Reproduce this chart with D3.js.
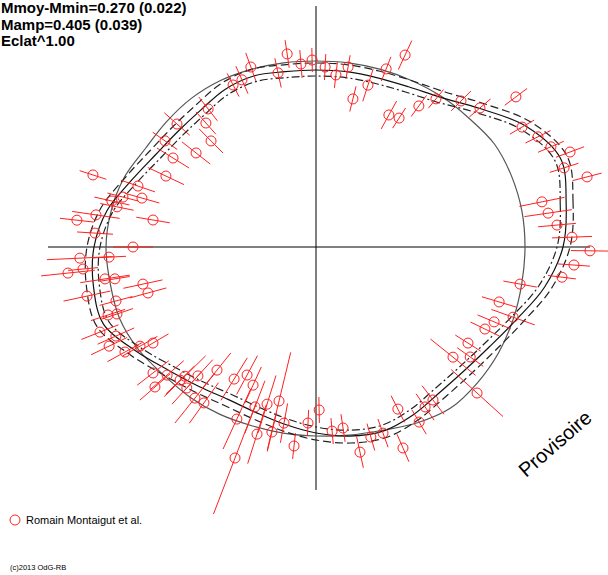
<!DOCTYPE html>
<html>
<head>
<meta charset="utf-8">
<script src="https://cdn.jsdelivr.net/npm/d3@7/dist/d3.min.js"></script>
<style>
  html, body { margin: 0; padding: 0; background: #fff; }
  svg { display: block; }
  text { font-family: "Liberation Sans", Arial, sans-serif; }
</style>
</head>
<body>
<svg id="chart" width="608" height="575"></svg>
<script>
// Observations: phase angle (degrees, counter-clockwise from the right axis),
// radial value and its uncertainty (same radial unit).
const obsAngle = [98.5,91.2,94.7,102.3,87.1,83.4,79.9,76.0,72.2,68.5,65.1,61.1,57.2,53.9,51.0,
  45.2,40.3,36.9,30.2,26.4,23.1,
  109.9,113.9,117.1,128.0,138.5,131.6,134.7,144.9,141.9,148.1,154.7,161.1,162.1,
  164.3,165.5,167.3,168.6,171.7,173.6,170.6,176.4,180.0,182.7,182.8,186.0,185.4,188.6,189.0,192.1,195.3,192.1,195.1,198.1,198.6,
  201.5,204.0,205.6,208.8,209.4,
  210.5,217.7,221.0,220.7,224.6,224.4,227.5,227.5,231.2,231.3,234.3,238.2,241.7,245.5,245.3,249.1,252.7,256.5,259.7,252.5,256.6,249.0,263.7,267.4,271.1,275.0,278.5,
  282.1,286.1,289.8,296.8,293.4,300.5,304.3,307.4,317.8,321.2,324.5,327.7,334.1,337.2,340.4,343.3,349.7,
  353.0,356.0,359.2,2.2,5.2,8.3,11.3,14.5,17.7,20.5];
const obsRadius = [97.6,93.5,91.8,89.1,90.1,86.6,91.4,76.3,85.0,95.7,105.8,75.4,76.7,87.3,95.3,
  102.9,107.5,125.0,119.2,123.9,127.7,
  95.7,91.4,91.0,87.6,92.8,82.9,74.6,92.3,76.2,84.2,83.0,94.1,117.2,
  90.4,99.7,104.6,101.5,111.2,120.3,82.6,110.7,91.5,118.2,103.6,124.7,117.0,106.7,101.8,88.5,87.1,117.1,103.6,109.4,105.0,
  116.1,109.5,114.7,109.0,101.0,
  94.6,103.0,106.7,98.2,92.0,95.1,87.4,95.6,79.0,96.8,96.0,77.7,72.7,75.9,94.7,85.6,82.3,79.2,89.5,98.1,95.1,113.0,100.1,88.1,81.5,92.4,91.5,
  104.9,98.9,98.9,90.8,109.5,101.6,96.8,96.3,108.7,87.9,94.7,89.9,93.9,96.6,104.6,95.6,103.7,
  123.9,129.3,137.0,128.1,121.0,117.3,115.2,140.0,130.2,135.6];
const obsError = [7,6,7,7.5,6.5,6.5,6,6.5,8.5,6.5,8,8,6,6.5,6,
  7,7,7,7,7,7,
  7.5,7.5,6.5,7.5,8.5,7.5,8.5,7.5,9,9.5,10,9,7,
  9,8,9,8.5,12,8.5,8.5,9,10,16.5,8.5,13.5,7.5,12.5,7.5,10,9.5,12,8.5,9,8.5,
  10,10,10,10,10,
  9,10,10,11,14.5,10,11,11,11,16,12.5,12.5,11,10,16.5,14,15,25,10,15.5,10,30,6.5,6.5,6.5,6.5,7,
  8,7,7.5,7.5,7.5,7,8,9,17.5,14.5,8,7.5,8,9,11.5,9,8.5,
  7,8,9.5,10,9.5,12,11.5,7.5,7.5,7.5];

// Fitted light curve and its envelope, sampled every 10 degrees.
const curveAngle = d3.range(0, 360, 10);
const fitMain  = [123.5,127,130,121,107.5,97.5,92.5,90,89,88.5,89,91,91,89.5,90,92.5,98,106,111,113,113,104,96,91,88,88,90,93,96,98,97,95.5,96.5,100,106.5,116];
const fitOuter = [127,130.5,133.5,124.5,111,101,96,93.5,92.5,92,92.5,94.5,94.5,93,93.5,96,101.5,109.5,114.5,116.5,116.5,107.5,99.5,94.5,91.5,91.5,93.5,96.5,99.5,101.5,100.5,99,100,103.5,110,119.5];
const fitInner = [120.5,124,127,118,104.5,94.5,89.5,87,86,85.5,86,88,88,86.5,87,89.5,95,103,108,110,110,101,93,88,85,85,87,90,93,95,94,92.5,93.5,97,103.5,113];
const refCurve = [104.5,104.5,104,103,100,98,96,94.5,93.5,93,93.5,94.5,96,97,97.5,98.5,102,104,105,104.5,104.5,102.5,99.5,98,96.5,95,94.5,94.5,95.5,97.5,101.5,105,105.5,105.5,105,104.5];

const headerLines = ["Mmoy-Mmin=0.270 (0.022)", "Mamp=0.405 (0.039)", "Eclat^1.00"];
const legendLabel = "Romain Montaigut et al.";
const creditLabel = "(c)2013 OdG-RB";
const stampLabel = "Provisoire";

const svg = d3.select("#chart");
const cx = 316, cy = 247;

// angle in degrees (math convention) -> d3 radial angle (clockwise from top)
const angle = d3.scaleLinear().domain([0, 360]).range([Math.PI / 2, Math.PI / 2 - 2 * Math.PI]);
const radius = d3.scaleLinear().domain([0, 134]).range([0, 268]);

const g = svg.append("g").attr("transform", `translate(${cx},${cy})`);

// axes through the centre
g.append("line").attr("x1", 48 - cx).attr("x2", 590 - cx).attr("y1", 0).attr("y2", 0)
  .attr("stroke", "#000").attr("stroke-width", 1);
g.append("line").attr("x1", 0).attr("x2", 0).attr("y1", 6 - cy).attr("y2", 490 - cy)
  .attr("stroke", "#000").attr("stroke-width", 1);

const radial = vals => d3.lineRadial()
  .angle((d, i) => angle(curveAngle[i]))
  .radius(d => radius(d))
  .curve(d3.curveCardinalClosed)(vals);

g.append("path").attr("d", radial(refCurve)).attr("fill", "none").attr("stroke", "#555").attr("stroke-width", 1.2);
g.append("path").attr("d", radial(fitMain)).attr("fill", "none").attr("stroke", "#111").attr("stroke-width", 1.2);
g.append("path").attr("d", radial(fitOuter)).attr("fill", "none").attr("stroke", "#222").attr("stroke-width", 1.2).attr("stroke-dasharray", "8,4");
g.append("path").attr("d", radial(fitInner)).attr("fill", "none").attr("stroke", "#222").attr("stroke-width", 1.2).attr("stroke-dasharray", "8,3,2,3");

const pt = (a, r) => [r * Math.sin(angle(a)), -r * Math.cos(angle(a))];
const obs = obsAngle.map((a, i) => ({ a, r: obsRadius[i], e: obsError[i] }));

const red = "#ff2020";
g.selectAll("line.err").data(obs).join("line").attr("class", "err")
  .each(function (d) {
    const p0 = pt(d.a, radius(d.r - d.e)), p1 = pt(d.a, radius(d.r + d.e));
    d3.select(this).attr("x1", p0[0]).attr("y1", p0[1]).attr("x2", p1[0]).attr("y2", p1[1]);
  })
  .attr("stroke", red).attr("stroke-width", 1);
g.selectAll("circle.obs").data(obs).join("circle").attr("class", "obs")
  .attr("cx", d => pt(d.a, radius(d.r))[0]).attr("cy", d => pt(d.a, radius(d.r))[1])
  .attr("r", 5).attr("fill", "none").attr("stroke", red).attr("stroke-width", 1);

// header
svg.selectAll("text.hdr").data(headerLines).join("text").attr("class", "hdr")
  .attr("x", 1).attr("y", (d, i) => 13 + i * 16.7)
  .attr("font-size", 15).attr("font-weight", "bold").attr("fill", "#000").text(d => d);

// legend
svg.append("circle").attr("cx", 15).attr("cy", 520).attr("r", 5).attr("fill", "none").attr("stroke", red);
svg.append("text").attr("x", 26).attr("y", 524).attr("font-size", 11).attr("fill", "#000").text(legendLabel);
svg.append("text").attr("x", 10).attr("y", 570).attr("font-size", 7.5).attr("fill", "#000").text(creditLabel);

// stamp
svg.append("text").attr("transform", "translate(526,478) rotate(-41)")
  .attr("font-size", 20).attr("fill", "#000").text(stampLabel);
</script>
</body>
</html>
